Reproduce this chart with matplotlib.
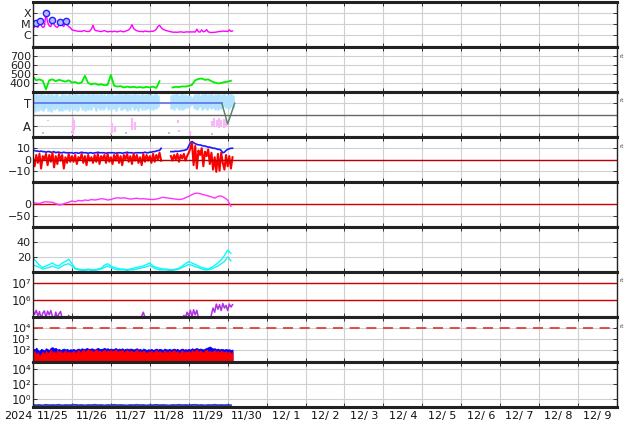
import numpy as np
import matplotlib
matplotlib.use('Agg')
import matplotlib.pyplot as plt

plt.rcParams['font.family'] = ['DejaVu Sans']

nan = np.nan
# ---------------- data (time in days from 2024-11-25 00:00) ----------------
day_labels = ['11/25', '11/26', '11/27', '11/28', '11/29', '11/30', '12/ 1', '12/ 2',
              '12/ 3', '12/ 4', '12/ 5', '12/ 6', '12/ 7', '12/ 8', '12/ 9']
year_label = '2024'

# Panel 1: X-ray flux, hourly, in units of 1e-6 W/m2 (C-class)
xray_c = [4, 6, 13, 5, 20, 8, 5, 6, 100, 15, 7, 6, 25, 9, 6, 5, 8, 16, 8, 6, 20, 9, 6, 5,
          3, 2.8, 2.5, 2.4, 2.2, 2.3, 2.1, 2.6, 2.4, 2.2, 2.1, 2.3, 3.5, 8, 3, 2.5, 2.4, 2.2, 2.1, 2.3, 2.6, 2.2, 2.0, 2.1,
          2.2, 2.0, 2.3, 2.1, 2.0, 2.2, 2.4, 2.1, 2.0, 2.3, 2.6, 3, 4.5, 9, 4, 3, 2.5, 2.3, 2.1, 2.2, 2.0, 2.4, 2.2, 2.1,
          2.1, 2.3, 2.2, 2.6, 3.5, 6, 8, 5, 3.5, 3, 2.6, 2.4, 2.2, 2.0, 1.9, 1.8, 1.9, 1.8, 1.9, 2.0, 1.9, 1.8, 1.9, 2.0,
          1.9, 2.0, 1.9, 2.0, 1.9, 3.5, 2.0, 1.9, 3, 2.0, 2.2, 3.2, 2.0, 1.8, 1.7, 1.8, 1.8, 1.9, 2.0, 2.2, 2.1, 2.4, 2.2, 2.3,
          2.1, 3, 2.2, 2.4]
flare_t = [0.08, 0.18, 0.33, 0.49, 0.69, 0.85]
flare_c = [13, 20, 100, 25, 16, 20]

# Panel 2: solar wind speed (km/s), 2-hourly
speed = [470, 430, 440, 425, 330, 430, 440, 420, 435, 425, 415, 430,
         405, 410, 395, 405, 480, 400, 385, 395, 380, 385, 375, 380,
         490, 370, 360, 365, 350, 360, 352, 358, 350, 355, 348, 357,
         350, 360, 345, 420, nan, nan, nan, 350, 358, 355, 362, 360,
         368, 380, 430, 445, 450, 435, 440, 420, 405, 395, 400, 410, 415, 425]

# Panel 3: IMF sector angle (deg), hourly band
phi_hi = [350, 340, 355, 335, 345, 350, 330, 345, 340, 355, 338, 348, 342, 335, 350, 345, 330, 340, 352, 336, 345, 340, 350, 332,
          345, 338, 350, 342, 330, 348, 355, 336, 344, 340, 350, 335, 345, 352, 338, 342, 348, 335, 350, 340, 345, 336, 352, 340,
          342, 350, 336, 345, 340, 352, 338, 346, 335, 350, 342, 348, 336, 345, 340, 350, 332, 346, 338, 352, 340, 345, 336, 350,
          340, 345, 335, 350, 342, 338, nan, nan, nan, nan, nan, nan, nan, 340, 345, 336, 350, 342, 338, 345, 350, 336, 342, 340,
          338, 330, 320, 335, 345, 340, 350, 336, 345, 342, 350, 338, 345, 340, 352, 336, 345, 340, 350, 342, 338, 345, 350, 340,
          345, 338, 350, 340]
phi_lo = [220, 200, 230, 210, 240, 215, 205, 225, 235, 210, 220, 200, 230, 215, 225, 240, 210, 220, 205, 230, 215, 225, 210, 235,
          225, 215, 235, 210, 220, 240, 215, 230, 205, 225, 220, 235, 215, 240, 225, 210, 230, 220, 235, 215, 225, 240, 220, 230,
          215, 235, 225, 210, 230, 240, 220, 215, 235, 225, 210, 230, 220, 240, 215, 225, 235, 210, 230, 220, 240, 215, 225, 235,
          220, 235, 215, 230, 225, 240, nan, nan, nan, nan, nan, nan, nan, 225, 235, 215, 240, 230, 220, 235, 215, 225, 240, 230,
          240, 250, 260, 235, 225, 220, 230, 240, 215, 225, 235, 220, 230, 240, 225, 235, 220, 230, 215, 235, 225, 240, 250, 230,
          235, 225, 240, 230]
gray_t = [0.05, 0.3, 0.55, 0.9, 1.05, 1.3, 1.6, 1.95, 2.2, 2.5, 2.8, 3.05, 3.2, 3.6, 3.9, 4.2, 4.5, 4.75,
          0.25, 1.0, 2.0, 2.4, 3.5, 4.6]
gray_phi = [355, 350, 358, 352, 356, 350, 354, 357, 351, 355, 349, 356, 352, 353, 357, 350, 355, 352,
            30, 40, 25, 35, 30, 28]
pink_t = [0.38, 1.03, 1.06, 2.03, 2.1, 2.55, 2.62, 3.72, 3.75, 4.03, 4.6, 4.66, 4.72, 4.78, 4.84, 4.9, 4.96, 5.02]
pink_lo = [130, 16, 60, 30, 40, 60, 56, 110, 40, 10, 90, 80, 85, 75, 90, 70, 80, 95]
pink_hi = [140, 152, 140, 110, 90, 150, 120, 140, 60, 50, 130, 150, 140, 155, 135, 145, 140, 130]
sector_t = [0.0, 4.85]
sector_phi = [270, 270]
vshape_t = [4.85, 5.0, 5.18]
vshape_phi = [270, 104, 270]

# Panel 4: Bt (blue) and Bz (red), nT, hourly
bt = [8, 8, 7.5, 7.5, 7, 7.5, 7, 7, 6.5, 7, 7, 6.5, 6.5, 7, 6, 6.5, 6.5, 6, 6, 6.5, 6, 6, 6, 6,
      6, 5.5, 6, 6, 5.5, 6, 6.5, 6, 6, 6, 5.5, 6, 6, 5.5, 6, 6, 6.5, 6, 6, 6, 6, 5.5, 6, 6,
      6, 6, 6, 5.5, 6, 6, 6, 5.5, 6, 6, 6.5, 6, 6, 6, 5.5, 6, 6, 6, 6, 6, 6, 6.5, 6, 6,
      6.5, 6.5, 7, 7, 7.5, 8, 8, 10, nan, nan, nan, nan, nan, 7, 7, 7, 7.5, 7, 7.5, 7.5, 8, 8, 8.5, 9,
      12, 15, 16, 15, 14, 13.5, 13, 13, 12.5, 12, 12, 11.5, 11, 11, 10.5, 10, 10, 9.5, 9, 9, 8, 6, 6.5, 8,
      9, 9.5, 10, 10]
bz = [2, -6, 4, -3, 5, -8, 3, 0, 5, -5, 4, -2, 6, -7, 3, -4, 5, -1, 4, -8, 2, -3, 5, -2,
      3, -2, 4, -4, 2, 0, 5, -3, 3, -5, 4, -1, 2, -3, 4, -2, 5, -4, 3, 0, 4, -3, 5, -2,
      2, -4, 4, -1, 5, -3, 3, -5, 4, 0, 5, -2, 3, -4, 5, -1, 4, -3, 2, -5, 5, -2, 4, -1,
      3, -3, 5, -2, 4, 0, 6, -1, nan, nan, nan, nan, nan, 3, -1, 4, 0, 5, -2, 4, 1, 5, -1, 3,
      6, 10, 15, -5, 12, -8, 8, 4, 10, -6, 7, 3, 9, -4, 6, -9, 2, -11, 5, -10, 6, -3, -9, 4,
      -6, 3, -8, 2]

# Panel 5: magenta index (nT), 2-hourly
dst = [8, 6, 4, 10, 12, 11, 10, 4, -2, 0, 6, 10, 16, 12, 18, 16, 20, 18, 22, 20, 22, 26, 24, 20,
       22, 27, 30, 28, 30, 27, 24, 26, 28, 25, 26, 24, 23, 22, 24, 28, 32, 30, 28, 26, 24, 22,
       24, 30, 36, 44, 50, 50, 46, 42, 38, 34, 28, 36, 38, 30, 20, -8]

# Panel 6: two cyan series, 2-hourly
cyan_a = [19, 14, 9, 6, 8, 10, 12, 9, 8, 12, 14, 17, 11, 5, 4, 3, 3, 4, 3, 3, 4, 5, 9, 11,
          8, 6, 5, 4, 4, 3, 4, 5, 6, 7, 8, 10, 12, 8, 6, 5, 4, 4, 3, 3, 4, 5, 8, 11,
          14, 12, 10, 8, 6, 5, 4, 6, 9, 12, 16, 22, 29, 25]
cyan_b = [9, 8, 6, 4, 5, 6, 8, 6, 5, 8, 10, 11, 8, 4, 3, 2, 2, 3, 2, 2, 3, 4, 6, 8,
          6, 4, 3, 3, 3, 2, 3, 3, 4, 5, 6, 7, 9, 6, 4, 3, 3, 3, 2, 2, 3, 4, 6, 8,
          10, 9, 7, 6, 4, 3, 3, 4, 6, 8, 11, 14, 20, 15]

# Panel 7: purple flux, hourly, units of 1e5
purple_e5 = [2.5, 1.5, 2.6, 1.2, 2.2, 0.8, 1.8, 2.4, 1.0, 2.3, 1.4, 2.5, 1.1, 0.7, 2.0, 1.0, 1.6, 2.2, 0.8, 0.6, 0.5, 0.6, 1.3, 0.6,
             0.5, 0.5, 0.5, 0.5, 0.5, 0.5, 0.5, 0.5, 0.5, 0.5, 0.5, 0.5, 0.5, 0.5, 0.5, 0.5, 0.5, 0.5, 0.5, 0.5, 1.1, 0.5, 0.5, 0.5,
             0.5, 0.5, 0.5, 0.5, 0.5, 0.5, 0.5, 0.5, 0.5, 0.5, 0.9, 0.5, 0.5, 0.5, 0.5, 0.5, 0.5, 0.5, 0.5, 1.2, 2.0, 1.0, 0.5, 0.5,
             0.5, 0.5, 0.5, 0.5, 0.5, 0.5, 0.5, 0.5, 0.5, 0.5, 0.5, 0.5, 0.5, 0.5, 0.5, 0.5, 0.5, 0.5, 0.5, 0.5, 0.6, 1.3, 1.0, 2.0,
             1.2, 2.6, 1.1, 2.8, 1.4, 2.6, 0.9, 0.6, 0.5, 0.5, 0.6, 0.8, 0.5, 0.5, 1.5, 3.5, 2.0, 6.0, 3.0, 5.5, 2.5, 6.5, 3.5, 5.0,
             2.5, 6, 4, 5.5]

# Panel 8: red and blue flux, hourly
flux_red = [60, 90, 40, 70, 30, 50, 80, 45, 100, 55, 70, 120, 60, 85, 50, 110, 70, 90, 55, 75, 100, 60, 80, 65,
            70, 95, 55, 80, 110, 60, 90, 120, 75, 100, 130, 85, 110, 70, 95, 125, 80, 100, 65, 90, 120, 75, 105, 85,
            110, 80, 95, 130, 70, 100, 85, 120, 60, 90, 110, 75, 100, 85, 65, 95, 120, 70, 90, 60, 100, 80, 55, 85,
            70, 95, 60, 85, 110, 65, 90, 75, 55, 100, 80, 60, 95, 70, 85, 110, 65, 90, 50, 80, 105, 60, 85, 70,
            90, 60, 110, 75, 95, 130, 70, 100, 80, 60, 95, 120, 75, 90, 65, 85, 110, 70, 95, 60, 100, 80, 70, 90,
            60, 85, 50, 70]
flux_blue = [150, 120, 180, 110, 90, 140, 120, 100, 160, 130, 110, 180, 200, 150, 170, 120, 140, 110, 130, 150, 120, 140, 110, 130,
             120, 140, 110, 130, 150, 120, 160, 140, 130, 170, 150, 130, 160, 140, 120, 150, 170, 140, 130, 150, 170, 140, 160, 130,
             150, 130, 140, 170, 120, 150, 130, 160, 120, 140, 150, 130, 150, 140, 120, 140, 160, 120, 140, 110, 150, 130, 110, 130,
             120, 140, 110, 130, 150, 120, 140, 130, 110, 150, 130, 120, 140, 120, 130, 150, 120, 140, 110, 130, 150, 120, 130, 120,
             140, 120, 160, 130, 150, 170, 130, 150, 140, 120, 150, 170, 200, 230, 180, 150, 160, 130, 150, 120, 140, 130, 120, 140,
             120, 130, 110, 120]

# Panel 9: blue flux, 2-hourly
flux9 = [0.18, 0.16, 0.17, 0.15, 0.18, 0.16, 0.17, 0.16, 0.18, 0.15, 0.17, 0.16, 0.17, 0.18, 0.16, 0.17,
         0.15, 0.17, 0.16, 0.18, 0.16, 0.17, 0.15, 0.17, 0.16, 0.18, 0.16, 0.17, 0.16, 0.15, 0.17, 0.16,
         0.18, 0.16, 0.17, 0.15, 0.17, 0.16, 0.18, 0.16, 0.17, 0.16, 0.15, 0.17, 0.16, 0.18, 0.16, 0.17,
         0.16, 0.17, 0.18, 0.16, 0.17, 0.15, 0.17, 0.16, 0.18, 0.16, 0.17, 0.16, 0.17, 0.16]


def hourly(v):
    return np.arange(len(v)) / 24.0


def two_hourly(v):
    return np.arange(len(v)) * 2 / 24.0


# ---------------- figure ----------------
W, H = 634, 424
fig = plt.figure(figsize=(W / 100, H / 100), dpi=100)
L, R = 33, 617
axes = []
for i in range(9):
    top = 2 + 45 * i
    ax = fig.add_axes([L / W, 1 - (top + 45) / H, (R - L) / W, 45 / H])
    axes.append(ax)

GRID = '#d0d0d0'


def style(ax, lsize=8):
    ax.set_xlim(0, 15)
    ax.set_xticks(np.arange(0, 16))
    ax.grid(True, which='major', color=GRID, lw=0.8)
    ax.tick_params(axis='both', which='major', direction='in', length=3, width=0.7,
                   labelsize=lsize, right=True, top=True, pad=1.5, colors='#333333',
                   labelcolor='#222222')
    ax.tick_params(axis='y', which='minor', left=False, right=False)
    ax.tick_params(axis='x', labelbottom=False)
    for s in ['top', 'bottom']:
        ax.spines[s].set_linewidth(2.2)
        ax.spines[s].set_color('#222222')
    for s in ['left', 'right']:
        ax.spines[s].set_linewidth(1.0)
        ax.spines[s].set_color('#222222')
    ax.set_axisbelow(True)


def pow_labels(exps):
    sup = str.maketrans('0123456789', '⁰¹²³⁴⁵⁶⁷⁸⁹')
    return ['10' + str(e).translate(sup) for e in exps]


# Panel 1
ax = axes[0]
ax.plot(hourly(xray_c), np.array(xray_c) * 1e-6, color='#ff00ff', lw=1.0)
ax.plot(flare_t, np.array(flare_c) * 1e-6, 'o', ms=4.5, mfc='#b8b8ff', mec='#2020ff', mew=1.0)
ax.set_yscale('log')
ax.set_ylim(10 ** -7.09, 10 ** -2.97)
ax.set_yticks([1e-6, 1e-5, 1e-4])
ax.set_yticklabels(['C', 'M', 'X'])
style(ax)

# Panel 2
ax = axes[1]
ax.plot(two_hourly(speed), speed, color='#00ee00', lw=1.3)
ax.set_ylim(300, 800)
ax.set_yticks([400, 500, 600, 700])
style(ax)

# Panel 3
ax = axes[2]
ax.vlines(hourly(phi_hi), phi_lo, phi_hi, color='#b0e2ff', lw=1.8)
ax.scatter(gray_t, gray_phi, s=4, marker='s', color='#c4c4c4', lw=0)
ax.vlines(pink_t, pink_lo, pink_hi, color='#f8b8f8', lw=1.6)
ax.plot(sector_t, sector_phi, color='#6070ee', lw=1.2)
ax.plot(vshape_t, vshape_phi, color='#5a8a6a', lw=1.1)
ax.axhline(180, color='#666666', lw=1.0)
ax.set_ylim(0, 360)
ax.set_yticks([90, 270])
ax.set_yticklabels(['A', 'T'])
style(ax, 8.5)

# Panel 4
ax = axes[3]
t4 = hourly(bz)
ax.plot(t4, bt, color='#1a1aff', lw=1.2)
ax.plot(t4, bz, color='#ff0000', lw=1.5)
ax.axhline(0, color='#bb0000', lw=1.0)
ax.set_ylim(-20, 20)
ax.set_yticks([-10, 0, 10])
style(ax)

# Panel 5
ax = axes[4]
ax.axhline(0, color='#cc0000', lw=1.0)
ax.plot(two_hourly(dst), dst, color='#ff33ff', lw=1.0)
ax.set_ylim(-100, 100)
ax.set_yticks([-50, 0])
style(ax)

# Panel 6
ax = axes[5]
ax.plot(two_hourly(cyan_a), cyan_a, color='#00ffff', lw=1.0)
ax.plot(two_hourly(cyan_b), cyan_b, color='#22eeee', lw=1.0)
ax.set_ylim(0, 60)
ax.set_yticks([20, 40])
style(ax)

# Panel 7
ax = axes[6]
ax.set_yscale('log')
ax.axhline(1e7, color='#cc0000', lw=1.0)
ax.axhline(1e6, color='#cc0000', lw=1.0)
ax.plot(hourly(purple_e5), np.array(purple_e5) * 1e5, color='#b030e0', lw=1.1)
ax.set_ylim(10 ** 5.02, 10 ** 7.66)
ax.set_yticks([1e6, 1e7])
ax.set_yticklabels(pow_labels([6, 7]))
style(ax, 8.5)

# Panel 8
ax = axes[7]
ax.set_yscale('log')
y0 = 9.0
t8 = hourly(flux_red)
ax.fill_between(t8, y0, flux_blue, color='#0000ff', lw=0.6)
ax.fill_between(t8, y0, flux_red, color='#ff0000', lw=0.6)
ax.axhline(1e4, color='#dd3333', lw=1.2, dashes=(6, 4))
ax.set_ylim(y0, 10 ** 5.04)
ax.set_yticks([1e2, 1e3, 1e4])
ax.set_yticklabels(pow_labels([2, 3, 4]))
style(ax, 8)

# Panel 9
ax = axes[8]
ax.set_yscale('log')
ax.plot(two_hourly(flux9), flux9, color='#3040c0', lw=1.4)
ax.set_ylim(10 ** -1.03, 10 ** 4.97)
ax.set_yticks([1e0, 1e2, 1e4])
ax.set_yticklabels(pow_labels([0, 2, 4]))
style(ax, 8.5)
ax.set_xticks(np.arange(0, 15) + 0.5, minor=True)
ax.set_xticklabels(day_labels, minor=True)
ax.tick_params(axis='x', which='minor', length=0, labelsize=8, pad=3, labelbottom=True,
               labelcolor='#111111')

fig.text(18 / W, 1 - 416 / H, year_label, fontsize=8, ha='center', va='center', color='#111111')

for yp in [56, 101, 146, 281, 326]:
    fig.text(620 / W, 1 - yp / H, 'rt', fontsize=4, ha='left', va='center', color='#444444')

fig.savefig('out.png', dpi=100)
